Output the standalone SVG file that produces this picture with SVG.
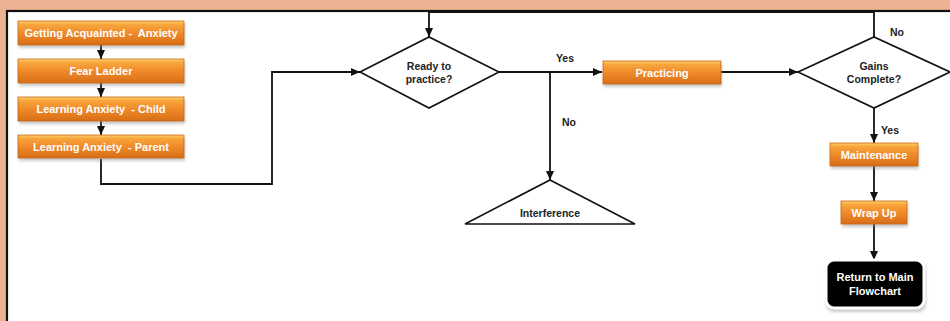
<svg xmlns="http://www.w3.org/2000/svg" width="950" height="321" viewBox="0 0 950 321">
<style>
.box{fill:url(#og);stroke:#C8641A;stroke-width:0.8}
.bt{font-family:"Liberation Sans",Arial,sans-serif;font-size:11px;font-weight:bold;fill:#fff;text-anchor:middle;white-space:pre}
.dt{font-family:"Liberation Sans",Arial,sans-serif;font-size:10.5px;font-weight:bold;fill:#222;text-anchor:middle}
.shape{fill:#fff;stroke:#111;stroke-width:1.6}
.ln{fill:none;stroke:#111;stroke-width:1.8}
.sh{fill:#888;opacity:0.45;filter:url(#bl)}
</style>
<defs>
<linearGradient id="og" x1="0" y1="0" x2="0" y2="1">
<stop offset="0" stop-color="#FDD36A"/>
<stop offset="0.15" stop-color="#F7A63C"/>
<stop offset="0.5" stop-color="#F08A2B"/>
<stop offset="1" stop-color="#D86E15"/>
</linearGradient>
<filter id="bl" x="-10%" y="-30%" width="120%" height="160%"><feGaussianBlur stdDeviation="1.5"/></filter>
<marker id="ar" markerWidth="10" markerHeight="10" refX="9" refY="5" orient="auto" markerUnits="userSpaceOnUse">
<path d="M0,1 L9,5 L0,9 Z" fill="#111"/>
</marker>
</defs>
<rect x="0" y="0" width="950" height="321" fill="#EBB392"/>
<rect x="7" y="11" width="950" height="320" fill="#fff" stroke="#111" stroke-width="2.2"/>

<g id="connectors">
<line class="ln" x1="101" y1="45" x2="101" y2="59" marker-end="url(#ar)"/>
<line class="ln" x1="101" y1="83" x2="101" y2="97" marker-end="url(#ar)"/>
<line class="ln" x1="101" y1="121" x2="101" y2="135" marker-end="url(#ar)"/>
<polyline class="ln" points="101,159 101,184 272,184 272,72 360,72" marker-end="url(#ar)"/>
<polyline class="ln" points="874,37 874,12 429,12 429,37" marker-end="url(#ar)"/>
<line class="ln" x1="499" y1="72" x2="602" y2="72" marker-end="url(#ar)"/>
<line class="ln" x1="550" y1="72" x2="550" y2="180" marker-end="url(#ar)"/>
<line class="ln" x1="721" y1="72" x2="798" y2="72" marker-end="url(#ar)"/>
<line class="ln" x1="874" y1="108" x2="874" y2="143" marker-end="url(#ar)"/>
<line class="ln" x1="874" y1="166" x2="874" y2="201" marker-end="url(#ar)"/>
<line class="ln" x1="874" y1="224" x2="874" y2="260" marker-end="url(#ar)"/>
<text class="dt" x="565" y="62">Yes</text>
<text class="dt" x="569" y="126">No</text>
<text class="dt" x="897" y="36">No</text>
<text class="dt" x="890" y="134">Yes</text>
</g>

<g id="n1"><rect class="sh" x="19" y="24" width="166" height="24"/><rect class="box" x="18" y="21" width="166" height="24"/><text class="bt" x="101" y="37">Getting Acquainted -  Anxiety</text></g>
<g id="n2"><rect class="sh" x="19" y="62" width="166" height="24"/><rect class="box" x="18" y="59" width="166" height="24"/><text class="bt" x="101" y="75">Fear Ladder</text></g>
<g id="n3"><rect class="sh" x="19" y="100" width="166" height="24"/><rect class="box" x="18" y="97" width="166" height="24"/><text class="bt" x="101" y="113">Learning Anxiety  - Child</text></g>
<g id="n4"><rect class="sh" x="19" y="138" width="166" height="23"/><rect class="box" x="18" y="135" width="166" height="23"/><text class="bt" x="101" y="151">Learning Anxiety  - Parent</text></g>

<g id="ready"><polygon class="shape" points="360,72 429,37 499,72 429,108"/><text class="dt" x="429" y="70">Ready to</text><text class="dt" x="429" y="83">practice?</text></g>
<g id="practicing"><rect class="sh" x="604" y="64" width="118" height="23"/><rect class="box" x="603" y="61" width="118" height="23"/><text class="bt" x="662" y="77">Practicing</text></g>
<g id="interference"><polygon class="shape" points="550,180 635,224 465,224"/><text class="dt" x="550" y="217">Interference</text></g>
<g id="gains"><polygon class="shape" points="798,72 874,37 950,72 874,108"/><text class="dt" x="874" y="70">Gains</text><text class="dt" x="874" y="83">Complete?</text></g>
<g id="maintenance"><rect class="sh" x="831" y="146" width="88" height="23"/><rect class="box" x="830" y="143" width="88" height="23"/><text class="bt" x="874" y="159">Maintenance</text></g>
<g id="wrapup"><rect class="sh" x="842" y="204" width="66" height="23"/><rect class="box" x="841" y="201" width="66" height="23"/><text class="bt" x="874" y="217">Wrap Up</text></g>
<g id="return"><rect class="sh" x="826" y="262" width="100" height="50" rx="8"/><rect x="826" y="260" width="98" height="48" rx="8" fill="#000" stroke="#fff" stroke-width="3"/><text class="bt" x="875" y="281">Return to Main</text><text class="bt" x="875" y="295">Flowchart</text></g>
</svg>
